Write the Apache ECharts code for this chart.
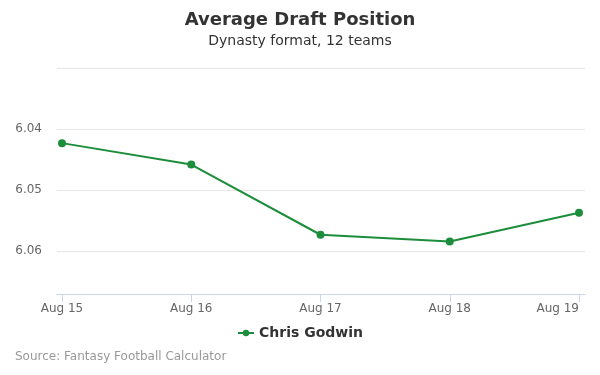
<!DOCTYPE html>
<html>
<head>
<meta charset="utf-8">
<script src="https://cdn.jsdelivr.net/npm/echarts@6/dist/echarts.min.js"></script>
<style>
html,body{margin:0;padding:0;background:#fff;}
#c{width:600px;height:375px;}
</style>
</head>
<body>
<div id="c"></div>
<script>
var categories = ['Aug 15', 'Aug 16', 'Aug 17', 'Aug 18', 'Aug 19'];
var seriesName = 'Chris Godwin';
var adpValues = [6.0423, 6.0458, 6.0573, 6.0584, 6.0537];
var yTicks = [6.03, 6.04, 6.05, 6.06];
var yMax = 6.067;

var font = 'DejaVu Sans, sans-serif';
var chart = echarts.init(document.getElementById('c'), null, {renderer: 'canvas'});
chart.setOption({
  animation: false,
  backgroundColor: '#ffffff',
  title: [{
    text: 'Average Draft Position',
    left: 'center', top: 6,
    textStyle: {fontFamily: font, fontSize: 18, fontWeight: 'bold', color: '#333333'}
  }, {
    text: 'Dynasty format, 12 teams',
    left: 'center', top: 29,
    textStyle: {fontFamily: font, fontSize: 14, fontWeight: 'normal', color: '#333333'}
  }, {
    text: 'Source: Fantasy Football Calculator',
    left: 10, top: 346,
    textStyle: {fontFamily: font, fontSize: 12, fontWeight: 'normal', color: '#999999'}
  }],
  legend: {
    data: [seriesName],
    top: 321, left: 'center',
    itemWidth: 16, itemHeight: 8,
    textStyle: {fontFamily: font, fontSize: 14, fontWeight: 'bold', color: '#333333'}
  },
  grid: [
    {left: 62, right: 21, top: 68, bottom: 81, containLabel: false},
    {left: 57, right: 15, top: 68, bottom: 81, containLabel: false}
  ],
  xAxis: [{
    type: 'category',
    gridIndex: 0,
    data: categories,
    boundaryGap: false,
    axisLine: {show: false},
    axisTick: {show: true, alignWithLabel: true, length: 8, lineStyle: {color: '#ccd6eb'}},
    axisLabel: {fontFamily: font, fontSize: 12, color: '#666666', margin: 9, alignMaxLabel: 'right'},
    splitLine: {show: false}
  }, {
    type: 'value',
    gridIndex: 1,
    min: 0, max: 1,
    axisLine: {show: true, lineStyle: {color: '#ccd6eb'}},
    axisTick: {show: false},
    axisLabel: {show: false},
    splitLine: {show: false}
  }],
  yAxis: [{
    type: 'value',
    gridIndex: 0,
    inverse: true,
    min: yTicks[0],
    max: yMax,
    interval: 0.01,
    axisLine: {show: false},
    axisTick: {show: false},
    axisLabel: {
      fontFamily: font, fontSize: 12, color: '#666666', margin: 20,
      showMinLabel: false, showMaxLabel: false,
      formatter: function (v) { return v.toFixed(2); }
    },
    splitLine: {show: false}
  }, {
    type: 'value',
    gridIndex: 1,
    inverse: true,
    min: yTicks[0],
    max: yMax,
    interval: 0.01,
    axisLine: {show: false},
    axisTick: {show: false},
    axisLabel: {show: false},
    splitLine: {lineStyle: {color: '#e6e6e6'}}
  }],
  series: [{
    name: seriesName,
    type: 'line',
    xAxisIndex: 0,
    yAxisIndex: 0,
    data: adpValues,
    color: '#1b8d3b',
    symbol: 'circle',
    symbolSize: 8,
    lineStyle: {width: 2, color: '#1b8d3b'},
    itemStyle: {color: '#1b8d3b'},
    z: 3
  }]
});
</script>
</body>
</html>
